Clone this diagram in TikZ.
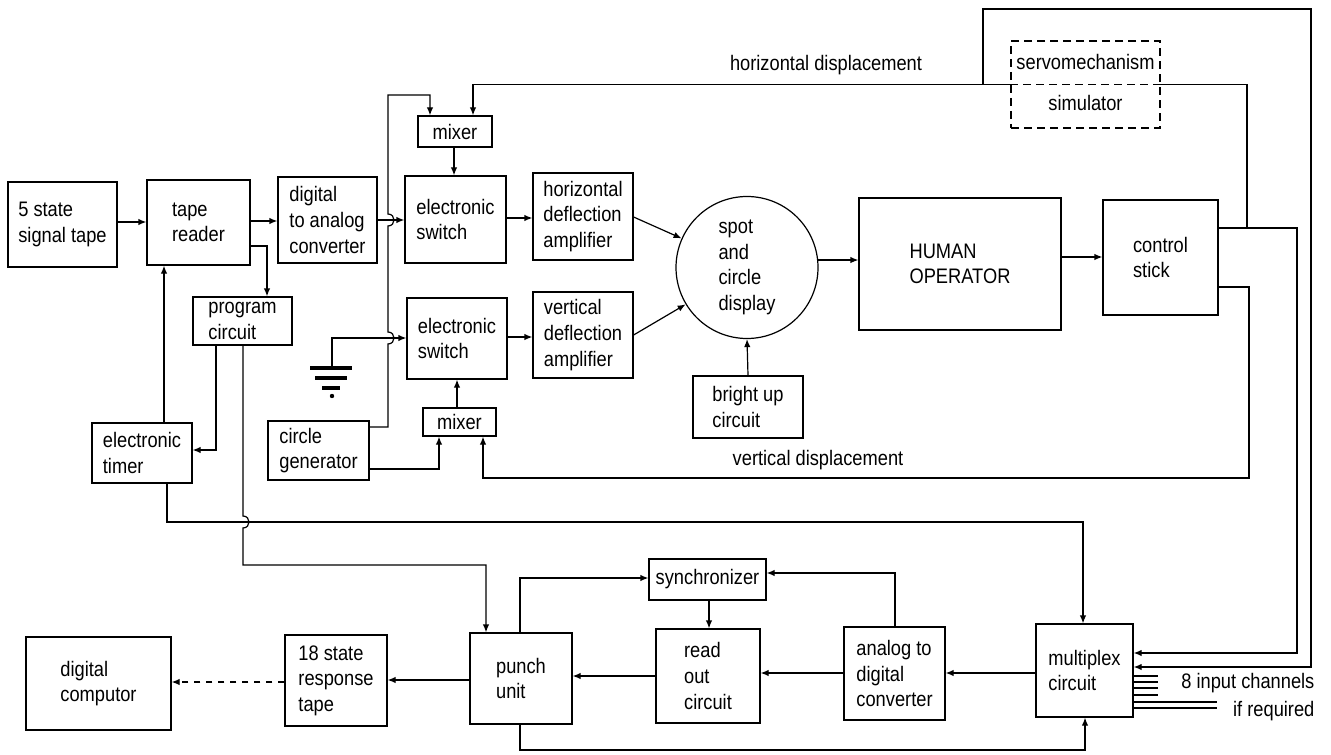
\documentclass[tikz,border=0pt]{standalone}
\usepackage{fontspec}
\setmainfont[FakeStretch=0.87]{Liberation Sans}
\usetikzlibrary{arrows.meta}
\begin{document}
\begin{tikzpicture}[x=0.5pt,y=-0.5pt,
  >={Latex[length=4pt,width=3.2pt]},
  every path/.style={line width=0.6pt},
  sz/.style 2 args={minimum width=#1*0.5pt, minimum height=#2*0.5pt},
  blk/.style={draw, inner sep=0pt, align=left, font=\fontsize{10.5}{12.8}\selectfont},
  lbl/.style={inner sep=0pt, font=\fontsize{10.5}{12.8}\selectfont},
  conn/.style={->},
]
\useasboundingbox (0,0) rectangle (1331,754);

% boxes
\node[blk, sz={109}{85}]  (sig)  at (62.5,224.5) {5 state\\signal tape};
\node[blk, sz={103}{85}]  (tr)   at (198.5,222.5) {tape\\reader};
\node[blk, sz={99}{86}]   (dac)  at (327.5,220) {digital\\to analog\\converter};
\node[blk, sz={99}{48}]   (pc)   at (242.5,321) {program\\circuit};
\node[blk, sz={100}{60}]  (et)   at (142,453) {electronic\\timer};
\node[blk, sz={101}{59}]  (cg)   at (318.5,450.5) {circle\\generator};
\node[blk, sz={73}{28}]   (mixB) at (459.5,422) {mixer};
\node[blk, sz={100}{81}]  (esB)  at (457,338.5) {electronic\\switch};
\node[blk, sz={101}{87}]  (esT)  at (455.5,219.5) {electronic\\switch};
\node[blk, sz={74}{31}]   (mixT) at (455,131.5) {mixer};
\node[blk, sz={100}{87}]  (hda)  at (583,216.5) {horizontal\\deflection\\amplifier};
\node[blk, sz={100}{86}]  (vda)  at (583,335) {vertical\\deflection\\amplifier};
\node[blk, circle, minimum size=71pt] (disp) at (747,267.5) {spot\\and\\circle\\display};
\node[blk, sz={110}{62}]  (bu)   at (748,407) {bright up\\circuit};
\node[blk, sz={202}{132}] (ho)   at (960,264) {HUMAN\\OPERATOR};
\node[blk, sz={115}{115}] (cs)   at (1160.5,257.5) {control\\stick};
\node[blk, sz={149}{87}, dash pattern=on 4pt off 2.5pt] (servo) at (1085.5,84.5) {};
\node[lbl] (servoA) at (1085.5,62) {servomechanism};
\node[lbl] (servoB) at (1085.5,103) {simulator};
\node[blk, sz={117}{41}]  (sync) at (707.5,579.5) {synchronizer};
\node[blk, sz={102}{91}]  (pu)   at (521,678.5) {punch\\unit};
\node[blk, sz={104}{94}]  (ro)   at (708,676) {read\\out\\circuit};
\node[blk, sz={101}{93}]  (adc)  at (894.5,673.5) {analog to\\digital\\converter};
\node[blk, sz={97}{93}]   (mux)  at (1084.5,670.5) {multiplex\\circuit};
\node[blk, sz={102}{91}]  (rt)   at (336,680.5) {18 state\\response\\tape};
\node[blk, sz={145}{93}]  (dc)   at (98.5,683.5) {digital\\computor};

% labels
\node[lbl] (hlab) at (826,65) {horizontal displacement};
\node[lbl] (vlab) at (818,460) {vertical displacement};
\node[lbl, anchor=east] (inlab) at (1315,683) {8 input channels};
\node[lbl, anchor=east] (ifreq) at (1315,711) {if required};

% servo divider
\draw[dash pattern=on 4pt off 2.5pt] (servo.west) -- (servo.east);

% ground symbol
\coordinate (gnd) at (332,368);
\draw[line width=2pt] (310,368) -- (352,368);
\draw[line width=2pt] (315,378) -- (347,378);
\draw[line width=2pt] (322,388) -- (340,388);
\fill (332,396) circle[radius=2.2];

% top chain
\draw[conn] (sig.east |- 0,222) -- (tr.west |- 0,222);
\draw[conn] (tr.east |- 0,221) -- (dac.west |- 0,221);
\draw[conn] (dac.east |- 0,220) -- (esT.west |- 0,220);
\draw[conn] (esT.east |- 0,218) -- (hda.west |- 0,218);
\draw[conn] (esB.east |- 0,337) -- (vda.west |- 0,337);
\draw[conn] (hda.east |- 0,217) -- (disp.156);
\draw[conn] (vda.east |- 0,335) -- (disp.211);
\draw[conn] (bu.north) -- (disp.south);
\draw[conn] (disp.6) -- (ho.west |- disp.6);
\draw[conn] (ho.east |- 0,257) -- (cs.west |- 0,257);
\draw[conn] (mixT.south -| 454,0) -- (esT.north -| 454,0);
\draw[conn] (mixB.north -| 457,0) -- (esB.south -| 457,0);

% ground to switch
\draw[conn] (gnd) |- (esB.west |- 0,338);

% circle generator feeds
\draw[conn] (cg.east |- 0,427) -- (388,427) -- (388,344)
  .. controls (396,344) and (396,332) .. (388,332) -- (388,226)
  .. controls (396,226) and (396,214) .. (388,214) -- (388,95) -- (430,95) -- (mixT.north -| 430,0);
\draw[conn] (cg.east |- 0,469) -| (mixB.south -| 439,0);

% tape reader / program / timer
\draw[conn] (tr.east |- 0,246) -| (pc.north -| 267,0);
\draw[conn] (pc.south -| 216,0) |- (et.east |- 0,450);
\draw[conn] (et.north -| 164,0) -- (tr.south -| 164,0);
\draw[conn] (et.south -| 167,0) |- (1083,522) -- (mux.north -| 1083,0);
\draw[conn] (pc.south -| 243,0) -- (243,516)
  .. controls (251,516) and (251,528) .. (243,528) -- (243,565) -| (pu.north -| 486,0);

% control stick outputs
\draw[conn] (cs.east |- 0,228) -- (1297,228) |- (mux.east |- 0,653);
\draw (1247,228) |- (servo.east);
\draw[conn] (servo.west) -| (mixT.north -| 473,0);
\draw[conn] (983,84.5) -- (983,9) -- (1311,9) |- (mux.east |- 0,667);
\draw[conn] (cs.east |- 0,287) -- (1249,287) |- (483,478) -- (mixB.south -| 483,0);

% bottom chain
\draw[conn] (mux.west |- 0,673) -- (adc.east |- 0,673);
\draw[conn] (adc.west |- 0,673) -- (ro.east |- 0,673);
\draw[conn] (ro.west |- 0,676) -- (pu.east |- 0,676);
\draw[conn] (pu.west |- 0,680) -- (rt.east |- 0,680);
\draw[conn, dashed] (rt.west |- 0,682) -- (dc.east |- 0,682);
\draw[conn] (pu.north -| 520,0) |- (sync.west |- 0,578);
\draw[conn] (adc.north -| 895,0) |- (sync.east |- 0,573);
\draw[conn] (sync.south -| 709,0) -- (ro.north -| 709,0);
\draw[conn] (pu.south -| 520,0) |- (1085,750) -- (mux.south -| 1085,0);

% input channels
\foreach \yy in {676,682,688,695} \draw (mux.east |- 0,\yy) -- (1158,\yy);
\foreach \yy in {702,708} \draw (mux.east |- 0,\yy) -- (1217,\yy);
\end{tikzpicture}
\end{document}
